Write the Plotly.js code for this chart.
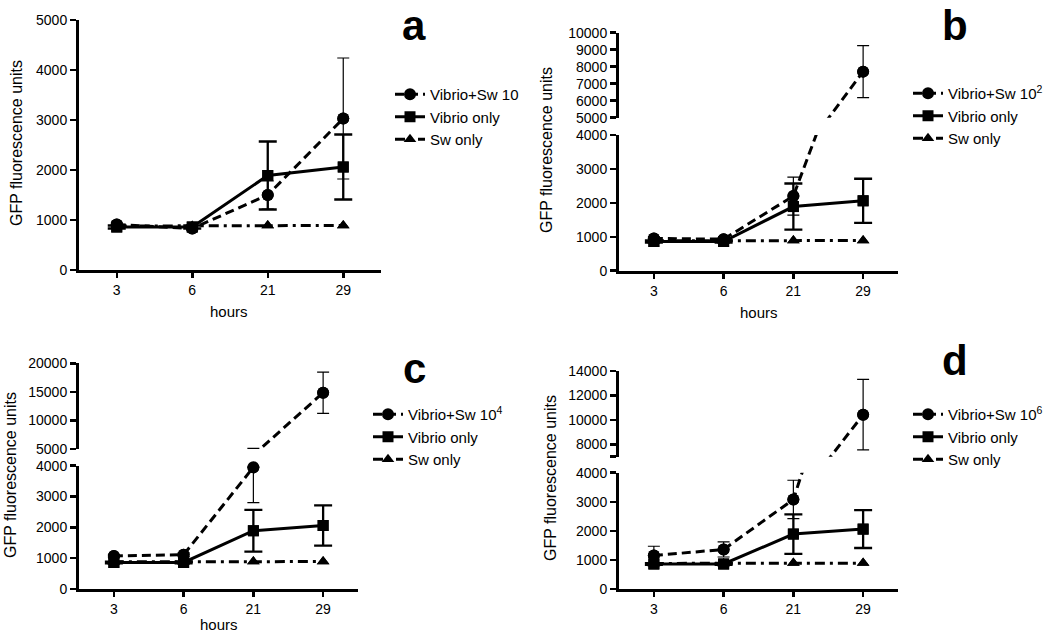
<!DOCTYPE html>
<html>
<head>
<meta charset="utf-8">
<script src="https://cdn.plot.ly/plotly-3.0.1.min.js"></script>
<style>html,body{margin:0;padding:0;background:#fff;}#chart{width:1050px;height:635px;}</style>
</head>
<body>
<div id="chart"></div>
<script>
// ---------------- data ----------------
const hours = ['3', '6', '21', '29'];

const vibrioOnly = [860, 860, 1890, 2060];
const vibrioOnlyErr = [30, 30, 680, 650];

const swOnly = [880, 880, 890, 890];

const mixA = [910, 830, 1500, 3030];
const mixAErr = [30, 30, 280, 1210];
const mixB = [950, 930, 2200, 7710];
const mixBErr = [40, 40, 560, 1530];
const mixC = [1070, 1110, 3950, 14850];
const mixCErr = [40, 60, 1150, 3600];
const mixD = [1150, 1360, 3080, 10430];
const mixDErr = [320, 260, 660, 2880];

const mixNames = ['Vibrio+Sw 10', 'Vibrio+Sw 10<sup>2</sup>', 'Vibrio+Sw 10<sup>4</sup>', 'Vibrio+Sw 10<sup>6</sup>'];
const vibrioName = 'Vibrio only';
const swName = 'Sw only';
const panelLetters = ['a', 'b', 'c', 'd'];
const yTitle = 'GFP fluorescence units';
const xTitle = 'hours';

const ticksA = [0, 1000, 2000, 3000, 4000, 5000];
const ticksLow = [0, 1000, 2000, 3000, 4000];
const ticksUpB = [5000, 6000, 7000, 8000, 9000, 10000];
const ticksUpC = [5000, 10000, 15000, 20000];
const ticksUpD = [7000, 8000, 10000, 12000, 14000];
const ticksUpDText = [' ', '8000', '10000', '12000', '14000'];

// ---------------- geometry ----------------
const W = 1050, H = 635;
const px = v => v / W;
const py = v => 1 - v / H;
const FONT = 'Liberation Sans, Arial, Helvetica, sans-serif';

const panels = [
  { x: 'x',  xd: [79, 381],  legend: 'legend',  legXY: [390, 78],  mix: mixA, err: mixAErr, name: mixNames[0],
    segs: [{ y: 'y',  d: [270, 20],   r: [0, 5000],  tv: ticksA }],
    ytitle: [17, 143], xtitle: [229, 311, 'middle'], letter: [414, 25, 'middle'] },
  { x: 'x2', xd: [619, 898], legend: 'legend2', legXY: [908, 77],  mix: mixB, err: mixBErr, name: mixNames[1],
    segs: [{ y: 'y2', d: [270.7, 135], r: [0, 4000], tv: ticksLow },
           { y: 'y3', d: [117.7, 32.7], r: [5000, 10000], tv: ticksUpB }],
    ytitle: [546, 150], xtitle: [759, 312, 'middle'], letter: [955, 0, 'top'] },
  { x: 'x3', xd: [79, 358],  legend: 'legend3', legXY: [368, 398], mix: mixC, err: mixCErr, name: mixNames[2],
    segs: [{ y: 'y4', d: [589, 465.7], r: [0, 4000], tv: ticksLow },
           { y: 'y5', d: [449, 363.3], r: [5000, 20000], tv: ticksUpC }],
    ytitle: [10, 475], xtitle: [219, 635, 'bottom'], letter: [414, 368, 'middle'] },
  { x: 'x4', xd: [619, 898], legend: 'legend4', legXY: [908, 398], mix: mixD, err: mixDErr, name: mixNames[3],
    segs: [{ y: 'y6', d: [589, 472.7], r: [0, 4000], tv: ticksLow },
           { y: 'y7', d: [456.7, 371], r: [7000, 14000], tv: ticksUpD, tt: ticksUpDText }],
    ytitle: [550, 478], xtitle: null, letter: [955, 360, 'middle'] }
];

const styles = {
  mix: { line: { color: '#000', width: 3, dash: '9px,5px' }, marker: { symbol: 'circle', size: 12, color: '#000' },
         errThick: 1.2, errWidth: 6, rank: 1 },
  vib: { line: { color: '#000', width: 3, dash: 'solid' }, marker: { symbol: 'square', size: 11, color: '#000' },
         errThick: 2.3, errWidth: 9, rank: 2 },
  sw:  { line: { color: '#000', width: 3, dash: '10px,5px,3px,5px' }, marker: { symbol: 'triangle-up', size: 11, color: '#000' },
         errThick: 1, errWidth: 0, rank: 3 }
};

const traces = [];
function addSeries(p, name, y, err, st) {
  p.segs.forEach((s, i) => {
    const t = {
      type: 'scatter', mode: 'lines+markers', x: hours, y: y,
      xaxis: p.x, yaxis: s.y, name: name, legend: p.legend, legendrank: st.rank,
      showlegend: i === 0, cliponaxis: true, hoverinfo: 'skip',
      line: st.line, marker: st.marker
    };
    if (err) {
      t.error_y = { type: 'data', array: err, visible: true, color: '#000', thickness: st.errThick, width: st.errWidth };
    }
    traces.push(t);
    // unclipped markers for the points that lie within this segment
    traces.push({
      type: 'scatter', mode: 'markers', x: hours,
      y: y.map(v => (v >= s.r[0] && v <= s.r[1]) ? v : null),
      xaxis: p.x, yaxis: s.y, showlegend: false, cliponaxis: false, hoverinfo: 'skip',
      marker: st.marker
    });
  });
}

const layout = {
  width: W, height: H, margin: { l: 0, r: 0, t: 0, b: 0 },
  paper_bgcolor: '#fff', plot_bgcolor: 'rgba(0,0,0,0)',
  font: { family: FONT, color: '#000' },
  annotations: [], showlegend: true
};

panels.forEach((p, pi) => {
  addSeries(p, swName, swOnly, null, styles.sw);
  addSeries(p, p.name, p.mix, p.err, styles.mix);
  addSeries(p, vibrioName, vibrioOnly, vibrioOnlyErr, styles.vib);

  const xk = 'xaxis' + (p.x === 'x' ? '' : p.x.slice(1));
  layout[xk] = {
    type: 'category', categoryorder: 'array', categoryarray: hours,
    range: [-0.5, 3.5], domain: [px(p.xd[0]), px(p.xd[1])], anchor: p.segs[0].y,
    showline: true, linewidth: 3, linecolor: '#000', ticks: 'outside', ticklen: 5, tickwidth: 2.5, tickcolor: '#000',
    tickfont: { size: 14, family: FONT }, showgrid: false, zeroline: false, fixedrange: true
  };
  p.segs.forEach(s => {
    const yk = 'yaxis' + (s.y === 'y' ? '' : s.y.slice(1));
    layout[yk] = {
      range: s.r, domain: [py(s.d[0]), py(s.d[1])], anchor: p.x,
      showline: true, linewidth: 3, linecolor: '#000', ticks: 'outside', ticklen: 6, tickwidth: 2.5, tickcolor: '#000',
      tickmode: 'array', tickvals: s.tv, ticktext: s.tt ? s.tt : s.tv.map(String),
      tickfont: { size: 14, family: FONT }, showgrid: false, zeroline: false, fixedrange: true
    };
  });
  layout[p.legend] = {
    x: px(p.legXY[0]), y: py(p.legXY[1]), xanchor: 'left', yanchor: 'top',
    font: { size: 15, family: FONT }, bgcolor: 'rgba(0,0,0,0)', borderwidth: 0, itemwidth: 30, traceorder: 'normal'
  };
  layout.annotations.push({
    xref: 'paper', yref: 'paper', x: px(p.ytitle[0]), y: py(p.ytitle[1]), text: yTitle, textangle: -90,
    showarrow: false, xanchor: 'center', yanchor: 'middle', font: { size: 16, family: FONT }
  });
  if (p.xtitle) {
    layout.annotations.push({
      xref: 'paper', yref: 'paper', x: px(p.xtitle[0]), y: py(p.xtitle[1]), text: xTitle,
      showarrow: false, xanchor: 'center', yanchor: p.xtitle[2], font: { size: 15, family: FONT }
    });
  }
  layout.annotations.push({
    xref: 'paper', yref: 'paper', x: px(p.letter[0]), y: py(p.letter[1]), text: '<b>' + panelLetters[pi] + '</b>',
    showarrow: false, xanchor: 'center', yanchor: p.letter[2], font: { size: 42, family: FONT }
  });
});

Plotly.newPlot('chart', traces, layout, { displayModeBar: false, staticPlot: true });
</script>
</body>
</html>
